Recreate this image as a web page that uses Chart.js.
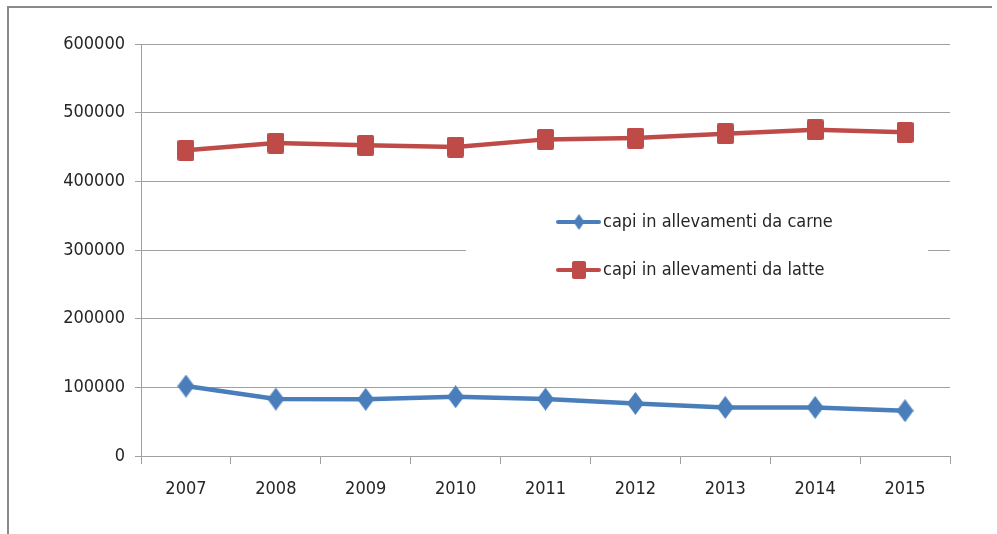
<!DOCTYPE html>
<html>
<head>
<meta charset="utf-8">
<script src="https://cdn.jsdelivr.net/npm/chart.js@4.4.1/dist/chart.umd.min.js"></script>
<style>
  html, body { margin: 0; padding: 0; background: #ffffff; }
  #wrap { width: 997px; height: 534px; }
</style>
</head>
<body>
<div id="wrap"><canvas id="chart" width="997" height="534"></canvas></div>
<script>
// Years on the x axis
const years = ['2007', '2008', '2009', '2010', '2011', '2012', '2013', '2014', '2015'];

// Head counts per farm type
const capiCarne = [101800, 82900, 82500, 86300, 82900, 76600, 70800, 70800, 65900];
const capiLatte = [445100, 455700, 452400, 449900, 461100, 463000, 469400, 475200, 471300];

const seriesLabels = ['capi in allevamenti da carne', 'capi in allevamenti da latte'];

// Y axis range
const yMin = 0;
const yMax = 600000;
const yStep = 100000;

const fontFamily = '"Liberation Sans Narrow", "DejaVu Sans Condensed", sans-serif';
const textColor = '#262626';
const gridColor = '#a0a0a0';
const blue = '#4a7ebb';
const red = '#be4b48';

// Marker images (slightly taller than wide)
function makeDiamond(w, h, color) {
    const c = document.createElement('canvas');
    c.width = w; c.height = h;
    const g = c.getContext('2d');
    g.fillStyle = color;
    g.beginPath();
    g.moveTo(w / 2, 0);
    g.lineTo(w, h / 2);
    g.lineTo(w / 2, h);
    g.lineTo(0, h / 2);
    g.closePath();
    g.fill();
    return c;
}

function makeSquare(w, h, color) {
    const c = document.createElement('canvas');
    c.width = w; c.height = h;
    const g = c.getContext('2d');
    g.fillStyle = color;
    g.beginPath();
    g.roundRect(0, 0, w, h, 2);
    g.fill();
    return c;
}

const diamondMarker = makeDiamond(17, 23, blue);
const squareMarker = makeSquare(17, 21, red);
const diamondSmall = makeDiamond(11, 16, blue);
const squareSmall = makeSquare(14, 18, red);

// Outer frame around the chart (left and top edges only)
const framePlugin = {
    id: 'frame',
    beforeDraw(chart) {
        const ctx = chart.ctx;
        ctx.save();
        ctx.fillStyle = '#ffffff';
        ctx.fillRect(0, 0, chart.width, chart.height);
        ctx.strokeStyle = '#8a8a8a';
        ctx.lineWidth = 2;
        ctx.beginPath();
        ctx.moveTo(8, chart.height);
        ctx.lineTo(8, 7);
        ctx.lineTo(992, 7);
        ctx.stroke();
        ctx.restore();
    }
};

// Legend box sitting inside the plot area
const insideLegend = {
    id: 'insideLegend',
    afterDraw(chart) {
        const ctx = chart.ctx;
        const markers = [diamondSmall, squareSmall];
        ctx.save();
        ctx.fillStyle = '#ffffff';
        ctx.fillRect(466, 196, 462, 100);
        chart.data.datasets.forEach((ds, i) => {
            const y = 222 + i * 48;
            ctx.strokeStyle = ds.borderColor;
            ctx.lineWidth = 4;
            ctx.lineCap = 'round';
            ctx.beginPath();
            ctx.moveTo(558, y);
            ctx.lineTo(599, y);
            ctx.stroke();
            const m = markers[i];
            ctx.drawImage(m, 579 - m.width / 2, y - m.height / 2);
            ctx.fillStyle = textColor;
            ctx.font = '18px ' + fontFamily;
            ctx.textBaseline = 'middle';
            ctx.textAlign = 'left';
            ctx.fillText(ds.label, 603, y);
        });
        ctx.restore();
    }
};

const ctx = document.getElementById('chart').getContext('2d');
const chart = new Chart(ctx, {
    type: 'line',
    data: {
        labels: years,
        datasets: [{
            label: seriesLabels[0],
            data: capiCarne,
            borderColor: blue,
            backgroundColor: blue,
            borderWidth: 4.5,
            pointStyle: diamondMarker,
            pointRadius: 10
        }, {
            label: seriesLabels[1],
            data: capiLatte,
            borderColor: red,
            backgroundColor: red,
            borderWidth: 4.5,
            pointStyle: squareMarker,
            pointRadius: 10
        }]
    },
    options: {
        responsive: false,
        animation: false,
        layout: {
            padding: { top: 44, left: 10, right: 47, bottom: 0 }
        },
        plugins: {
            legend: { display: false },
            tooltip: { enabled: false }
        },
        scales: {
            x: {
                offset: true,
                grid: {
                    offset: true,
                    drawOnChartArea: false,
                    drawTicks: true,
                    tickLength: 8,
                    color: gridColor
                },
                border: { color: gridColor },
                ticks: {
                    color: textColor,
                    font: { family: fontFamily, size: 18 },
                    padding: 15
                },
                afterFit(scale) { scale.height = 78; }
            },
            y: {
                min: yMin,
                max: yMax,
                ticks: {
                    stepSize: yStep,
                    color: textColor,
                    font: { family: fontFamily, size: 18 },
                    padding: 10,
                    callback: value => String(value)
                },
                grid: {
                    color: gridColor,
                    tickLength: 6
                },
                border: { color: gridColor },
                afterFit(scale) { scale.width = 131; }
            }
        }
    },
    plugins: [framePlugin, insideLegend]
});
</script>
</body>
</html>
